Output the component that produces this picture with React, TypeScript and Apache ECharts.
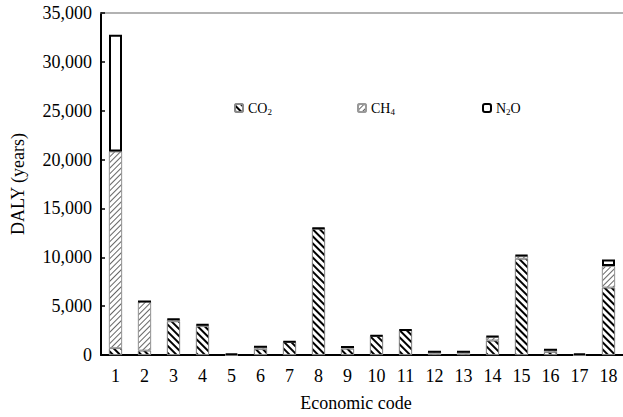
import React, { useEffect, useRef } from "react";
import * as echarts from "echarts";

const categories = ["1","2","3","4","5","6","7","8","9","10","11","12","13","14","15","16","17","18"];
const co2 = [700, 450, 3450, 2950, 0, 600, 1330, 12930, 650, 1940, 2540, 150, 150, 1480, 9850, 300, 0, 6900];
const ch4 = [20130, 5030, 180, 110, 0, 240, 0, 0, 160, 0, 0, 190, 190, 380, 300, 240, 0, 2200];
const n2o = [11940, 0, 60, 60, 130, 0, 60, 60, 0, 60, 60, 0, 0, 60, 70, 0, 170, 670];
const yTicks = { min: 0, max: 35000, interval: 5000 };

const FONT = "'Liberation Serif', 'Times New Roman', serif";

export default function App() {
  const ref = useRef<HTMLDivElement>(null);
  useEffect(() => {
    const chart = echarts.init(ref.current!, null, { renderer: "svg" });
    const sub = { fontFamily: FONT, fontSize: 9, verticalAlign: "bottom", padding: [7, 0, 0, 0], color: "#000" };
    const legendText = { fontFamily: FONT, fontSize: 14, color: "#000", rich: { s: sub } };
    const fmt = (n: string) => n.replace(/(\d)/, "{s|$1}");
    const mkLegend = (name: string, left: number) => ({
      data: [name],
      left,
      top: 96,
      itemWidth: 8,
      itemHeight: 8,
      itemGap: 4,
      formatter: fmt,
      textStyle: legendText,
      selectedMode: false,
    });
    chart.setOption({
      animation: false,
      backgroundColor: "#fff",
      grid: { left: 101, top: 13, right: -6, bottom: 59 },
      legend: [mkLegend("CO2", 229), mkLegend("CH4", 352), mkLegend("N2O", 477)],
      xAxis: [
        {
          type: "category",
          data: categories,
          name: "Economic code",
          nameLocation: "middle",
          nameGap: 39,
          nameTextStyle: { fontFamily: FONT, fontSize: 18, color: "#000", padding: [0, 0, 0, -12] },
          axisLine: { lineStyle: { color: "#000", width: 2 } },
          axisTick: { inside: true, length: 5, interval: 0, lineStyle: { color: "#000", width: 1.5 } },
          axisLabel: { fontFamily: FONT, fontSize: 18, color: "#000", margin: 12, interval: 0 },
        },
        {
          type: "category",
          data: categories,
          position: "top",
          axisLine: { lineStyle: { color: "#999", width: 1.5 } },
          axisTick: { show: false },
          axisLabel: { show: false },
        },
      ],
      yAxis: {
        type: "value",
        min: yTicks.min,
        max: yTicks.max,
        interval: yTicks.interval,
        name: "DALY (years)",
        nameLocation: "middle",
        nameGap: 74,
        nameTextStyle: { fontFamily: FONT, fontSize: 18, color: "#000" },
        axisLine: { show: true, lineStyle: { color: "#000", width: 2 } },
        axisTick: { show: true, inside: true, length: 4, lineStyle: { color: "#000", width: 1.5 } },
        splitLine: { show: false },
        axisLabel: {
          fontFamily: FONT,
          fontSize: 18,
          color: "#000",
          margin: 9,
          formatter: (v: number) => v.toLocaleString("en-US"),
        },
      },
      series: [
        {
          name: "CO2",
          type: "bar",
          stack: "t",
          data: co2,
          barWidth: 13,
          itemStyle: {
            color: "#fff",
            borderColor: "#888",
            borderWidth: 0.8,
            decal: {
              symbol: "rect",
              symbolSize: 1,
              color: "#000",
              backgroundColor: "#fff",
              dashArrayX: [1, 0],
              dashArrayY: [1.4, 2.8],
              rotation: Math.PI / 4,
            },
          },
        },
        {
          name: "CH4",
          type: "bar",
          stack: "t",
          data: ch4,
          barWidth: 13,
          itemStyle: {
            color: "#fff",
            borderColor: "#999",
            borderWidth: 0.8,
            decal: {
              symbol: "rect",
              symbolSize: 1,
              color: "#666",
              backgroundColor: "#fff",
              dashArrayX: [1, 0],
              dashArrayY: [0.9, 2.1],
              rotation: -Math.PI / 4,
            },
          },
        },
        {
          name: "N2O",
          type: "bar",
          stack: "t",
          data: n2o,
          barWidth: 13,
          itemStyle: { color: "#fff", borderColor: "#000", borderWidth: 2 },
        },
      ],
    });
    return () => chart.dispose();
  }, []);
  return (
    <div
      ref={ref}
      style={{ position: "fixed", left: 0, top: 0, width: 623, height: 417 }}
    />
  );
}
